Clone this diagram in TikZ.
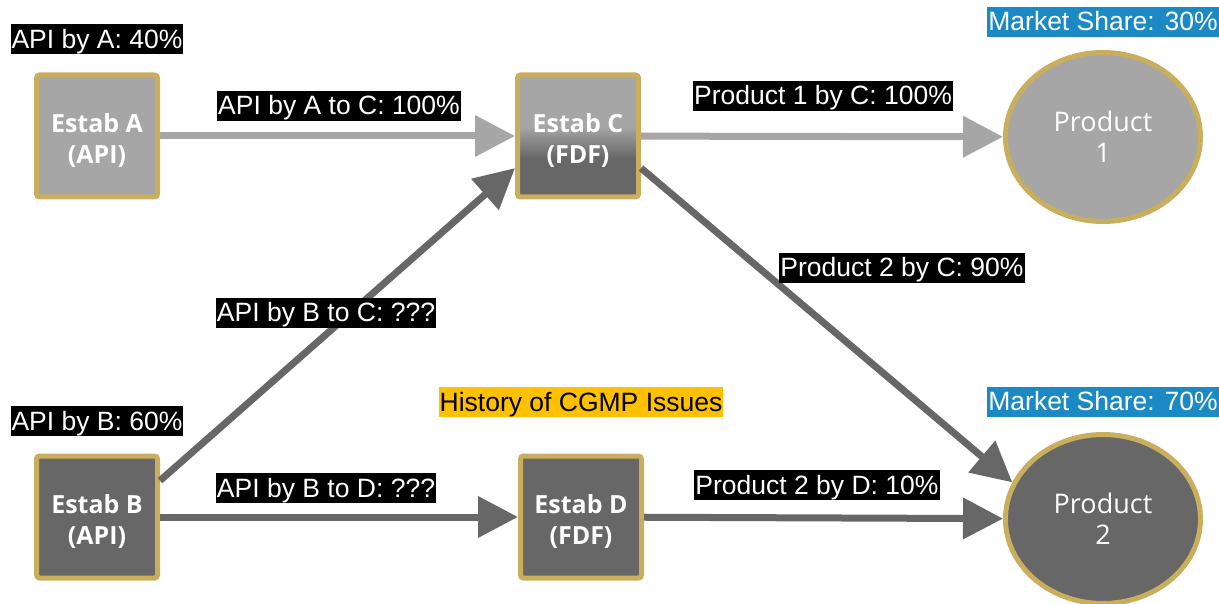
\documentclass[tikz,border=0pt]{standalone}
\usepackage{fontspec}
\newfontfamily\lblfont{Liberation Sans}
\newfontfamily\boxfont{Open Sans}
\usetikzlibrary{positioning,arrows.meta,shapes.geometric}
\definecolor{ltgray}{HTML}{A6A6A6}
\definecolor{dkgray}{HTML}{676767}
\definecolor{gold}{HTML}{C9AE5D}
\definecolor{shareblue}{HTML}{1B8AC4}
\definecolor{warn}{HTML}{FFC000}
\pgfdeclareverticalshading{fdfshade}{100bp}{color(0bp)=(dkgray); color(41bp)=(dkgray); color(54bp)=(ltgray); color(100bp)=(ltgray)}
\newcommand{\estabtext}[2]{\rule{0pt}{28pt}#1\\#2}

\begin{document}
\begin{tikzpicture}[x=1pt,y=-1pt,
estab/.style={draw=gold, line width=5pt, rounded corners=3pt, minimum width=121pt, minimum height=122pt, inner sep=0pt, align=center, text=white, font=\boxfont\bfseries\fontsize{25}{31}\selectfont},
prod/.style={ellipse, draw=gold, line width=5pt, minimum width=195pt, minimum height=169pt, inner sep=0pt, align=center, text=white, font=\boxfont\fontsize{27}{31}\selectfont},
lbl/.style={fill=black, text=white, inner xsep=1pt, inner ysep=0pt, text height=24pt, text depth=6pt, font=\lblfont\fontsize{26.5}{30}\selectfont},
flow/.style={line width=7pt, -{Triangle[length=40pt,width=40pt]}}]
\useasboundingbox (0,0) rectangle (1219,604);
\node[estab, fill=ltgray] (estabA) at (97,136) {\estabtext{Estab A}{(API)}};
\node[estab, fill=dkgray] (estabB) at (97,517) {\estabtext{Estab B}{(API)}};
\node[estab, shading=fdfshade] (estabC) at (578,136) {\estabtext{Estab C}{(FDF)}};
\node[estab, fill=dkgray] (estabD) at (581,517) {\estabtext{Estab D}{(FDF)}};
\node[prod, fill=ltgray] (prodA) at (1103,137) {Product\\1};
\node[prod, fill=dkgray] (prodB) at (1103,519) {Product\\2};
% flows
\draw[flow, ltgray] (estabA) -- (estabC);
\draw[flow, ltgray] (estabC) -- (prodA);
\draw[flow, dkgray] (estabB.30) -- (estabC.207);
\draw[flow, dkgray] (estabB) -- (estabD);
\draw[flow, dkgray] (estabC.333) -- (prodB.158);
\draw[flow, dkgray] (estabD) -- (prodB);
% labels
\node[lbl, above=18pt of estabA] {API by A: 40\%};
\node[lbl, above=17pt of estabB] {API by B: 60\%};
\node[lbl, fill=shareblue, above=13pt of prodA] {Market Share: 30\%};
\node[lbl, fill=shareblue, above=15pt of prodB] {Market Share: 70\%};
\node[lbl] at (339,106) {API by A to C: 100\%};
\node[lbl] at (823,96) {Product 1 by C: 100\%};
\node[lbl] at (902,268) {Product 2 by C: 90\%};
\node[lbl] at (326,313) {API by B to C: ???};
\node[lbl] at (326,488) {API by B to D: ???};
\node[lbl] at (817,485) {Product 2 by D: 10\%};
\node[lbl, fill=warn, text=black] at (581,402) {History of CGMP Issues};
\end{tikzpicture}
\end{document}
